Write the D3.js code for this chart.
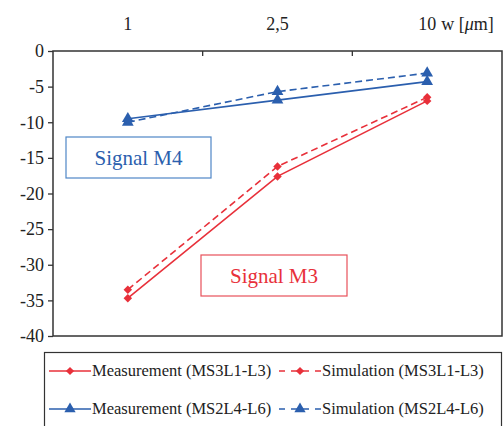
<!DOCTYPE html>
<html>
<head>
<script src="https://d3js.org/d3.v7.min.js"></script>
<style>
  body { margin: 0; background: #fff; }
  svg { display: block; font-family: "Liberation Serif", "Times New Roman", serif; }
</style>
</head>
<body>
<svg width="504" height="426"></svg>
<script>
const widths = ["1", "2,5", "10"];
const measM3 = [-34.7, -17.6, -7.0];
const simM3 = [-33.5, -16.2, -6.5];
const measM4 = [-9.5, -6.9, -4.3];
const simM4 = [-10.0, -5.7, -3.1];
const yTicks = [0, -5, -10, -15, -20, -25, -30, -35, -40];

const red = "#e8303a", blue = "#2b5fae";
const svg = d3.select("svg");
const plotL = 53, plotR = 502, plotT = 51, plotB = 336;

const x = d3.scaleBand().domain(widths).range([plotL, plotR]);
const y = d3.scaleLinear().domain([-40, 0]).range([plotB, plotT]);

// plot frame
svg.append("rect").attr("x", plotL).attr("y", plotT)
  .attr("width", plotR - plotL).attr("height", plotB - plotT)
  .attr("fill", "none").attr("stroke", "#333").attr("stroke-width", 1.5);

// left axis, plain hyphen as minus sign like the original
const yAxis = svg.append("g").attr("transform", `translate(${plotL},0)`)
  .call(d3.axisLeft(y).tickValues(yTicks).tickFormat(d => String(d)).tickSize(5).tickPadding(4));
yAxis.select(".domain").remove();
yAxis.selectAll("line").attr("stroke", "#333").attr("stroke-width", 1.3);
yAxis.selectAll("text").style("font-size", "18px").attr("fill", "#222")
  .style("font-family", "Liberation Serif");

// top category labels and boundary ticks
const xAxis = svg.append("g").attr("transform", `translate(0,${plotT})`);
widths.slice(1).forEach(w => {
  xAxis.append("line").attr("x1", x(w)).attr("x2", x(w))
    .attr("y1", 0).attr("y2", 5).attr("stroke", "#333").attr("stroke-width", 1.3);
});
widths.forEach(w => {
  xAxis.append("text").attr("x", x(w) + x.bandwidth() / 2).attr("y", -21)
    .attr("text-anchor", "middle").style("font-size", "18px").attr("fill", "#222").text(w);
});
const unit = xAxis.append("text").attr("x", x("10") + x.bandwidth() / 2 + 14).attr("y", -21)
  .style("font-size", "18px").attr("fill", "#222");
unit.append("tspan").text("w [");
unit.append("tspan").style("font-style", "italic").text("μ");
unit.append("tspan").text("m]");

// series (diamond = square turned 45°)
const series = [
  { values: measM3, color: red, dash: null, shape: d3.symbolSquare, rot: 45 },
  { values: simM3, color: red, dash: "7,4", shape: d3.symbolSquare, rot: 45 },
  { values: measM4, color: blue, dash: null, shape: d3.symbolTriangle, rot: 0 },
  { values: simM4, color: blue, dash: "7,4", shape: d3.symbolTriangle, rot: 0 }
];
const cx = w => x(w) + x.bandwidth() / 2;
const line = d3.line().x((d, i) => cx(widths[i])).y(d => y(d));

series.forEach(s => {
  svg.append("path").datum(s.values).attr("d", line)
    .attr("fill", "none").attr("stroke", s.color).attr("stroke-width", 1.6)
    .attr("stroke-dasharray", s.dash);
  svg.selectAll(null).data(s.values).enter().append("path")
    .attr("transform", (d, i) => `translate(${cx(widths[i])},${y(d)}) rotate(${s.rot})`)
    .attr("d", d3.symbol().type(s.shape).size(s.rot ? 36 : 60))
    .attr("fill", s.color);
});

// signal boxes
function labelBox(bx, by, bw, bh, text, color, stroke) {
  svg.append("rect").attr("x", bx).attr("y", by).attr("width", bw).attr("height", bh)
    .attr("fill", "#fff").attr("stroke", stroke).attr("stroke-width", 1.2);
  svg.append("text").attr("x", bx + bw / 2).attr("y", by + bh / 2 + 7)
    .attr("text-anchor", "middle").style("font-size", "21px").attr("fill", color).text(text);
}
labelBox(66, 137, 145, 41, "Signal M4", blue, "#4f86c6");
labelBox(201, 255, 146, 41, "Signal M3", red, "#e8505a");

// legend
svg.append("rect").attr("x", 44.5).attr("y", 352.5).attr("width", 457).attr("height", 80)
  .attr("fill", "#fff").attr("stroke", "#333").attr("stroke-width", 1.2);
const legend = [
  { label: "Measurement (MS3L1-L3)", s: series[0], col: 0, row: 0 },
  { label: "Simulation (MS3L1-L3)", s: series[1], col: 1, row: 0 },
  { label: "Measurement (MS2L4-L6)", s: series[2], col: 0, row: 1 },
  { label: "Simulation (MS2L4-L6)", s: series[3], col: 1, row: 1 }
];
legend.forEach(l => {
  const lx = l.col === 0 ? 49 : 279, ly = l.row === 0 ? 371 : 409;
  svg.append("line").attr("x1", lx).attr("x2", lx + 42).attr("y1", ly).attr("y2", ly)
    .attr("stroke", l.s.color).attr("stroke-width", 1.6).attr("stroke-dasharray", l.s.dash ? "6,6" : null);
  svg.append("path").attr("transform", `translate(${lx + 21},${ly}) rotate(${l.s.rot})`)
    .attr("d", d3.symbol().type(l.s.shape).size(l.s.rot ? 34 : 55))
    .attr("fill", l.s.color);
  svg.append("text").attr("x", lx + 43).attr("y", ly + 5).style("font-size", "16.5px")
    .attr("fill", "#222").text(l.label);
});
</script>
</body>
</html>
